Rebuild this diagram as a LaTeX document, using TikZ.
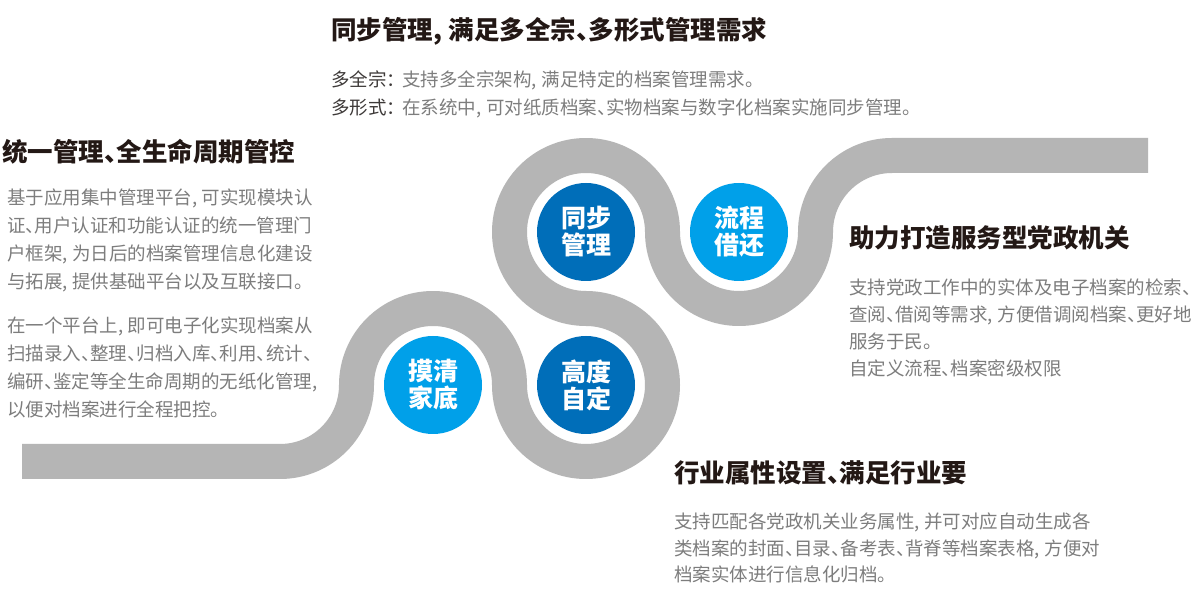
\documentclass[tikz,border=0pt]{standalone}
\usepackage{fontspec}
\setmainfont{Noto Sans CJK SC}[RawFeature=+halt]
\definecolor{roadc}{RGB}{181,181,181}
\definecolor{darkb}{RGB}{0,110,185}
\definecolor{lightb}{RGB}{0,160,233}
\definecolor{titlec}{RGB}{35,24,21}
\definecolor{bodyc}{RGB}{125,125,125}
\definecolor{labc}{RGB}{62,58,57}
\newcommand{\cma}{,\hspace{0.25em}}
\begin{document}
\begin{tikzpicture}[x=1pt,y=1pt,
  ttl/.style={anchor=base west, inner sep=0pt, text=titlec, font=\fontsize{25.5}{27}\selectfont\bfseries},
  body/.style={anchor=base west, inner sep=0pt, text=bodyc, font=\fontsize{18.5}{20}\selectfont},
  bubble/.style={circle, minimum size=98pt, inner sep=0pt, text=white, align=center, font=\fontsize{25}{27}\selectfont\bfseries},
  roadline/.style={draw=roadc, line width=35pt, line join=round}
]
\useasboundingbox (0,0) rectangle (1200,600);
\fill[white] (0,0) rectangle (1200,600);

% road
\coordinate (rs) at (22,138.5);
\coordinate (rk) at (280,138.5);
\coordinate (re) at (1148,444.5);
\draw[roadline] (rs) -- (rk)
  arc[start angle=-90, end angle=0, radius=76.5pt]
  arc[start angle=180, end angle=0, radius=76.5pt]
  arc[start angle=180, end angle=450, radius=76.5pt]
  arc[start angle=270, end angle=0, radius=76.5pt]
  arc[start angle=180, end angle=360, radius=76.5pt]
  arc[start angle=180, end angle=90, radius=76.5pt]
  -- (re);

% bubbles
\node[bubble, fill=lightb] (mq) at (433,215) {摸清\\家底};
\node[bubble, fill=darkb] (gd) at (586,215) {高度\\自定};
\node[bubble, fill=darkb] (tb) at (586,368) {同步\\管理};
\node[bubble, fill=lightb] (lc) at (739,368) {流程\\借还};

% top block
\node[ttl] (t1) at (331,560.3) {同步管理\cma 满足多全宗、多形式管理需求};
\node[body] (t1a) at (331,513) {\textcolor{labc}{多全宗：}\hspace{0.35em}支持多全宗架构\cma 满足特定的档案管理需求。};
\node[body] (t1b) at (331,485) {\textcolor{labc}{多形式：}\hspace{0.35em}在系统中\cma 可对纸质档案、实物档案与数字化档案实施同步管理。};

% left block
\node[ttl] (t2) at (2,438.3) {统一管理、全生命周期管控};
\node[body] (t2a) at (7,395) {基于应用集中管理平台\cma 可实现模块认};
\node[body] (t2b) at (7,367.2) {证、用户认证和功能认证的统一管理门};
\node[body] (t2c) at (7,339.4) {户框架\cma 为日后的档案管理信息化建设};
\node[body] (t2d) at (7,311.6) {与拓展\cma 提供基础平台以及互联接口。};
\node[body] (t2e) at (7,267) {在一个平台上\cma 即可电子化实现档案从};
\node[body] (t2f) at (7,239.3) {扫描录入、整理、归档入库、利用、统计、};
\node[body] (t2g) at (7,211.5) {编研、鉴定等全生命周期的无纸化管理,};
\node[body] (t2h) at (7,183.7) {以便对档案进行全程把控。};

% right block
\node[ttl] (t3) at (849,352.3) {助力打造服务型党政机关};
\node[body] (t3a) at (849,305) {支持党政工作中的实体及电子档案的检索、};
\node[body] (t3b) at (849,278) {查阅、借阅等需求\cma 方便借调阅档案、更好地};
\node[body] (t3c) at (849,251) {服务于民。};
\node[body] (t3d) at (849,224) {自定义流程、档案密级权限};

% bottom block
\node[ttl] (t4) at (674,117.3) {行业属性设置、满足行业要};
\node[body] (t4a) at (674,71) {支持匹配各党政机关业务属性\cma 并可对应自动生成各};
\node[body] (t4b) at (674,44.5) {类档案的封面、目录、备考表、背脊等档案表格\cma 方便对};
\node[body] (t4c) at (674,18) {档案实体进行信息化归档。};
\end{tikzpicture}
\end{document}
